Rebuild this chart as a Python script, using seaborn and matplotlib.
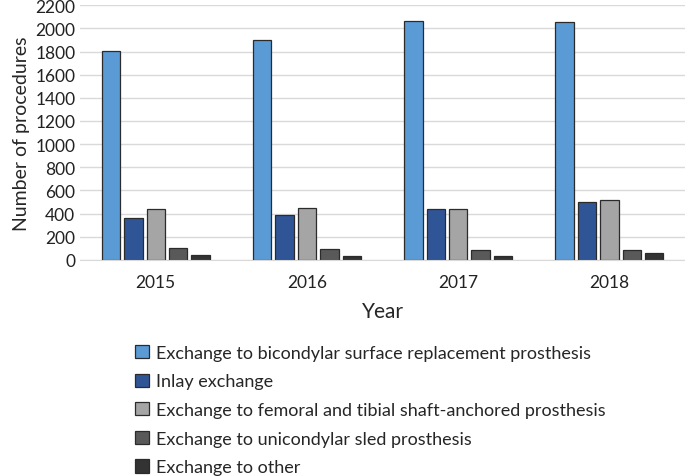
import matplotlib
matplotlib.use("Agg")
import matplotlib.pyplot as plt
import pandas as pd
import seaborn as sns

years = ["2015", "2016", "2017", "2018"]
categories = [
    "Exchange to bicondylar surface replacement prosthesis",
    "Inlay exchange",
    "Exchange to femoral and tibial shaft-anchored prosthesis",
    "Exchange to unicondylar sled prosthesis",
    "Exchange to other",
]
bicondylar = [1805, 1902, 2066, 2052]
inlay = [366, 390, 442, 496]
shaft_anchored = [439, 450, 442, 517]
unicondylar = [107, 98, 89, 89]
other = [43, 35, 35, 61]
colors = ["#5B9BD5", "#2F5597", "#A5A5A5", "#595959", "#333333"]

series = [bicondylar, inlay, shaft_anchored, unicondylar, other]
rows = []
for cat, vals in zip(categories, series):
    for yr, v in zip(years, vals):
        rows.append({"Year": yr, "category": cat, "count": v})
df = pd.DataFrame(rows)

sns.set_style("white")
plt.rcParams["font.family"] = ["Lato", "DejaVu Sans"]

fig = plt.figure(figsize=(6.85, 4.77), dpi=100)
ax = fig.add_axes([0.117, 0.453, 0.883, 0.534])
sns.barplot(data=df, x="Year", y="count", hue="category", hue_order=categories,
            palette=colors, saturation=1, width=0.74, gap=0.18,
            edgecolor="#2b2b2b", linewidth=0.9, ax=ax, legend=True)

ax.set_ylim(0, 2200)
ax.set_yticks(range(0, 2201, 200))
ax.yaxis.grid(True, color="#d9d9d9", linewidth=1)
ax.set_axisbelow(True)
for s in ["top", "right", "left"]:
    ax.spines[s].set_visible(False)
ax.spines["bottom"].set_color("#d9d9d9")
ax.tick_params(axis="both", labelsize=12.5, length=0, colors="#222222")
ax.tick_params(axis="x", pad=10)
ax.set_ylabel("Number of procedures", fontsize=14)
ax.set_xlabel("Year", fontsize=15, labelpad=8)

handles, labels = ax.get_legend_handles_labels()
ax.get_legend().remove()
fig.legend(handles, labels, loc="upper left", bbox_to_anchor=(0.184, 0.294),
           frameon=False, fontsize=13, handlelength=0.75, handleheight=0.75,
           handletextpad=0.4, labelspacing=0.7, borderpad=0)

fig.savefig("out.png", dpi=100)
